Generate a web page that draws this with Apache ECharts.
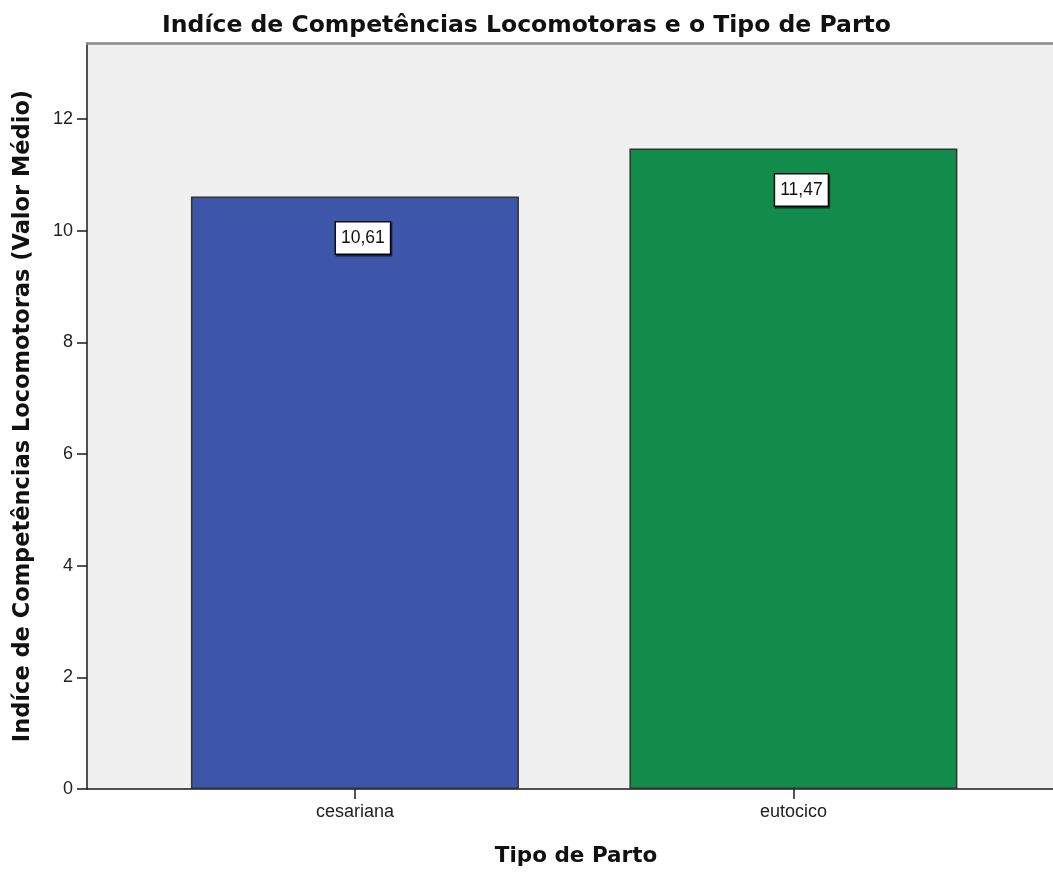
<!DOCTYPE html>
<html>
<head>
<meta charset="utf-8">
<script src="https://cdn.jsdelivr.net/npm/echarts@6/dist/echarts.min.js"></script>
<style>
  html, body { margin: 0; padding: 0; background: #ffffff; }
  #chart { width: 1053px; height: 873px; }
</style>
</head>
<body>
<div id="chart"></div>
<script>
// Categories and mean values
const categories = ['cesariana', 'eutocico'];
const meanValues = [10.61, 11.47];
const barColors = ['#3D56A9', '#118C4A'];
const yTicks = [0, 2, 4, 6, 8, 10, 12];
const categoryPositions = [0, 1];

const fmtComma = v => v.toFixed(2).replace('.', ',');

const chart = echarts.init(document.getElementById('chart'), null, { renderer: 'canvas' });

const barData = meanValues.map((v, i) => ({
  value: [categoryPositions[i], v],
  itemStyle: { color: barColors[i] }
}));

const xMin = -0.611, xMax = 1.592;

chart.setOption({
  backgroundColor: '#ffffff',
  animation: false,
  title: {
    text: 'Indíce de Competências Locomotoras e o Tipo de Parto',
    left: 'center',
    top: 9,
    textStyle: { fontFamily: 'DejaVu Sans', fontSize: 23.5, fontWeight: 'bold', color: '#111' }
  },
  grid: {
    left: 87, right: 0, top: 43, bottom: 84,
    show: true, backgroundColor: '#F0F0F0', borderWidth: 0
  },
  xAxis: [{
    type: 'value',
    min: xMin, max: xMax,
    name: 'Tipo de Parto',
    nameLocation: 'middle',
    nameGap: 56,
    nameTextStyle: { fontFamily: 'DejaVu Sans', fontSize: 21.5, fontWeight: 'bold', color: '#111', padding: [0, 0, 0, 12] },
    splitLine: { show: false },
    axisLine: { show: true, onZero: false, lineStyle: { color: '#1a1a1a', width: 1.5 } },
    axisTick: { show: true, customValues: categoryPositions, length: 10, lineStyle: { color: '#1a1a1a', width: 1.5 } },
    axisLabel: {
      customValues: categoryPositions,
      formatter: v => categories[Math.round(v)],
      margin: 14,
      fontFamily: 'Liberation Sans', fontSize: 18, color: '#222'
    }
  }, {
    type: 'value',
    position: 'top',
    min: xMin, max: xMax,
    splitLine: { show: false },
    axisLine: { show: true, onZero: false, lineStyle: { color: '#8a8a8a', width: 2.5 } },
    axisTick: { show: false },
    axisLabel: { show: false }
  }],
  yAxis: {
    type: 'value',
    min: 0, max: 13.36, interval: 2,
    name: 'Indíce de Competências Locomotoras (Valor Médio)',
    nameLocation: 'middle',
    nameGap: 52,
    nameTextStyle: { fontFamily: 'DejaVu Sans', fontSize: 22.5, fontWeight: 'bold', color: '#111' },
    splitLine: { show: false },
    axisLine: { show: true, onZero: false, lineStyle: { color: '#1a1a1a', width: 1.5 } },
    axisTick: { show: true, customValues: yTicks, length: 10, lineStyle: { color: '#1a1a1a', width: 1.5 } },
    axisLabel: {
      customValues: yTicks,
      margin: 14,
      fontFamily: 'Liberation Sans', fontSize: 18, color: '#222'
    }
  },
  series: [{
    type: 'bar',
    xAxisIndex: 0,
    data: barData,
    barWidth: 328,
    itemStyle: { borderColor: '#333', borderWidth: 1.5 },
    label: {
      show: true,
      position: 'insideTop',
      distance: 26,
      offset: [8, 0],
      formatter: p => fmtComma(p.value[1]),
      fontFamily: 'Liberation Sans', fontSize: 17.5, color: '#111',
      backgroundColor: '#ffffff',
      borderColor: '#111', borderWidth: 1.5,
      padding: [7, 5, 6, 5],
      shadowColor: 'rgba(0,0,0,0.6)', shadowOffsetX: 1, shadowOffsetY: 1.5, shadowBlur: 0
    }
  }]
});
</script>
</body>
</html>
